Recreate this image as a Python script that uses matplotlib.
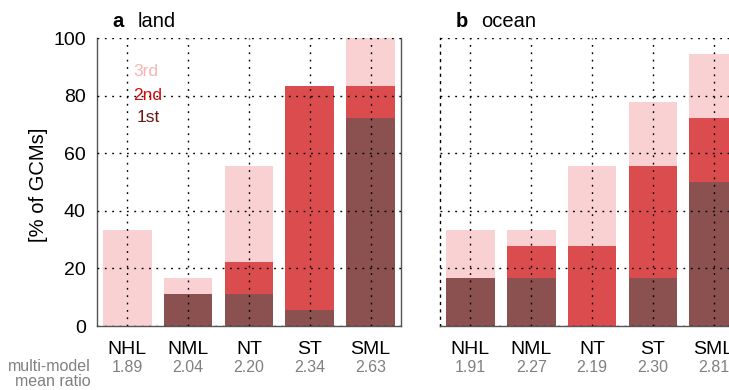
import numpy as np
import matplotlib.pyplot as plt
import matplotlib.transforms as mtransforms

plt.rcParams['font.family'] = ['Liberation Sans', 'DejaVu Sans']

regions = ["NHL", "NML", "NT", "ST", "SML"]

# % of GCMs ranking the region 1st / 2nd / 3rd (stacked)
land_1st = [0.0, 11.1, 11.1, 5.6, 72.2]
land_2nd = [0.0, 0.0, 11.1, 77.7, 11.1]
land_3rd = [33.3, 5.6, 33.4, 0.0, 16.7]
land_ratio = ["1.89", "2.04", "2.20", "2.34", "2.63"]

ocean_1st = [16.7, 16.7, 0.0, 16.7, 50.0]
ocean_2nd = [0.0, 11.1, 27.8, 38.9, 22.2]
ocean_3rd = [16.6, 5.5, 27.8, 22.2, 22.2]
ocean_ratio = ["1.91", "2.27", "2.19", "2.30", "2.81"]

c1 = "#8b5050"
c2 = "#db4c4e"
c3 = "#f9d1d2"


def draw_panel(ax, letter, name, first, second, third, ratios, left_axis):
    x = np.arange(1, len(regions) + 1)
    first = np.array(first)
    second = np.array(second)
    third = np.array(third)
    ax.bar(x, first, width=0.8, color=c1, zorder=1)
    ax.bar(x, second, width=0.8, bottom=first, color=c2, zorder=1)
    ax.bar(x, third, width=0.8, bottom=first + second, color=c3, zorder=1)

    ax.set_xlim(0.5, 5.5)
    ax.set_ylim(0, 100)
    ax.set_xticks(x)
    ax.set_xticklabels(regions, fontsize=14)
    ax.set_yticks([0, 20, 40, 60, 80, 100])
    ax.tick_params(length=0, pad=10.5)
    ax.tick_params(axis="y", pad=8, labelsize=14)
    ax.grid(True, color="black", linestyle=(0, (1.3, 4)), linewidth=1.0, zorder=2)
    ax.set_axisbelow(False)

    for s in ["top", "right", "left", "bottom"]:
        ax.spines[s].set_color("#555555")
        ax.spines[s].set_linewidth(1.0)
    ax.spines["top"].set_visible(False)
    if not left_axis:
        ax.spines["left"].set_linestyle((0, (1.3, 4)))
        ax.spines["left"].set_color("black")
        ax.set_yticklabels([])
    else:
        ax.set_ylabel("[% of GCMs]", fontsize=14.5)
        ax.yaxis.set_label_coords(-0.161, 0.49)

    ax.text(0.05, 1.025, letter, transform=ax.transAxes, fontsize=14.5,
            fontweight="bold", ha="left", va="bottom")
    ax.text(0.135, 1.025, name, transform=ax.transAxes, fontsize=14.5,
            ha="left", va="bottom")

    trans = mtransforms.blended_transform_factory(ax.transData, ax.transAxes)
    for xi, r in zip(x, ratios):
        ax.text(xi, -0.143, r, transform=trans, fontsize=11.5,
                color="#808080", ha="center", va="center")


fig = plt.figure(figsize=(7.29, 3.90), dpi=100)
ax_a = fig.add_axes([0.133, 0.164, 0.417, 0.738])
ax_b = fig.add_axes([0.6036, 0.164, 0.417, 0.738])

draw_panel(ax_a, "a", "land", land_1st, land_2nd, land_3rd, land_ratio, True)
draw_panel(ax_b, "b", "ocean", ocean_1st, ocean_2nd, ocean_3rd, ocean_ratio, False)

ax_a.text(1.1, 88.5, "3rd", color="#f7b4b4", fontsize=12.5, va="center", ha="left")
ax_a.text(1.1, 80.0, "2nd", color="#d00a0a", fontsize=12.5, va="center", ha="left")
ax_a.text(1.15, 72.6, "1st", color="#6e1414", fontsize=12.5, va="center", ha="left")

fig.text(0.124, 0.041, "multi-model\nmean ratio", color="#808080", fontsize=11.5,
         ha="right", va="center", linespacing=1.0)

fig.savefig("out.png", dpi=100)
